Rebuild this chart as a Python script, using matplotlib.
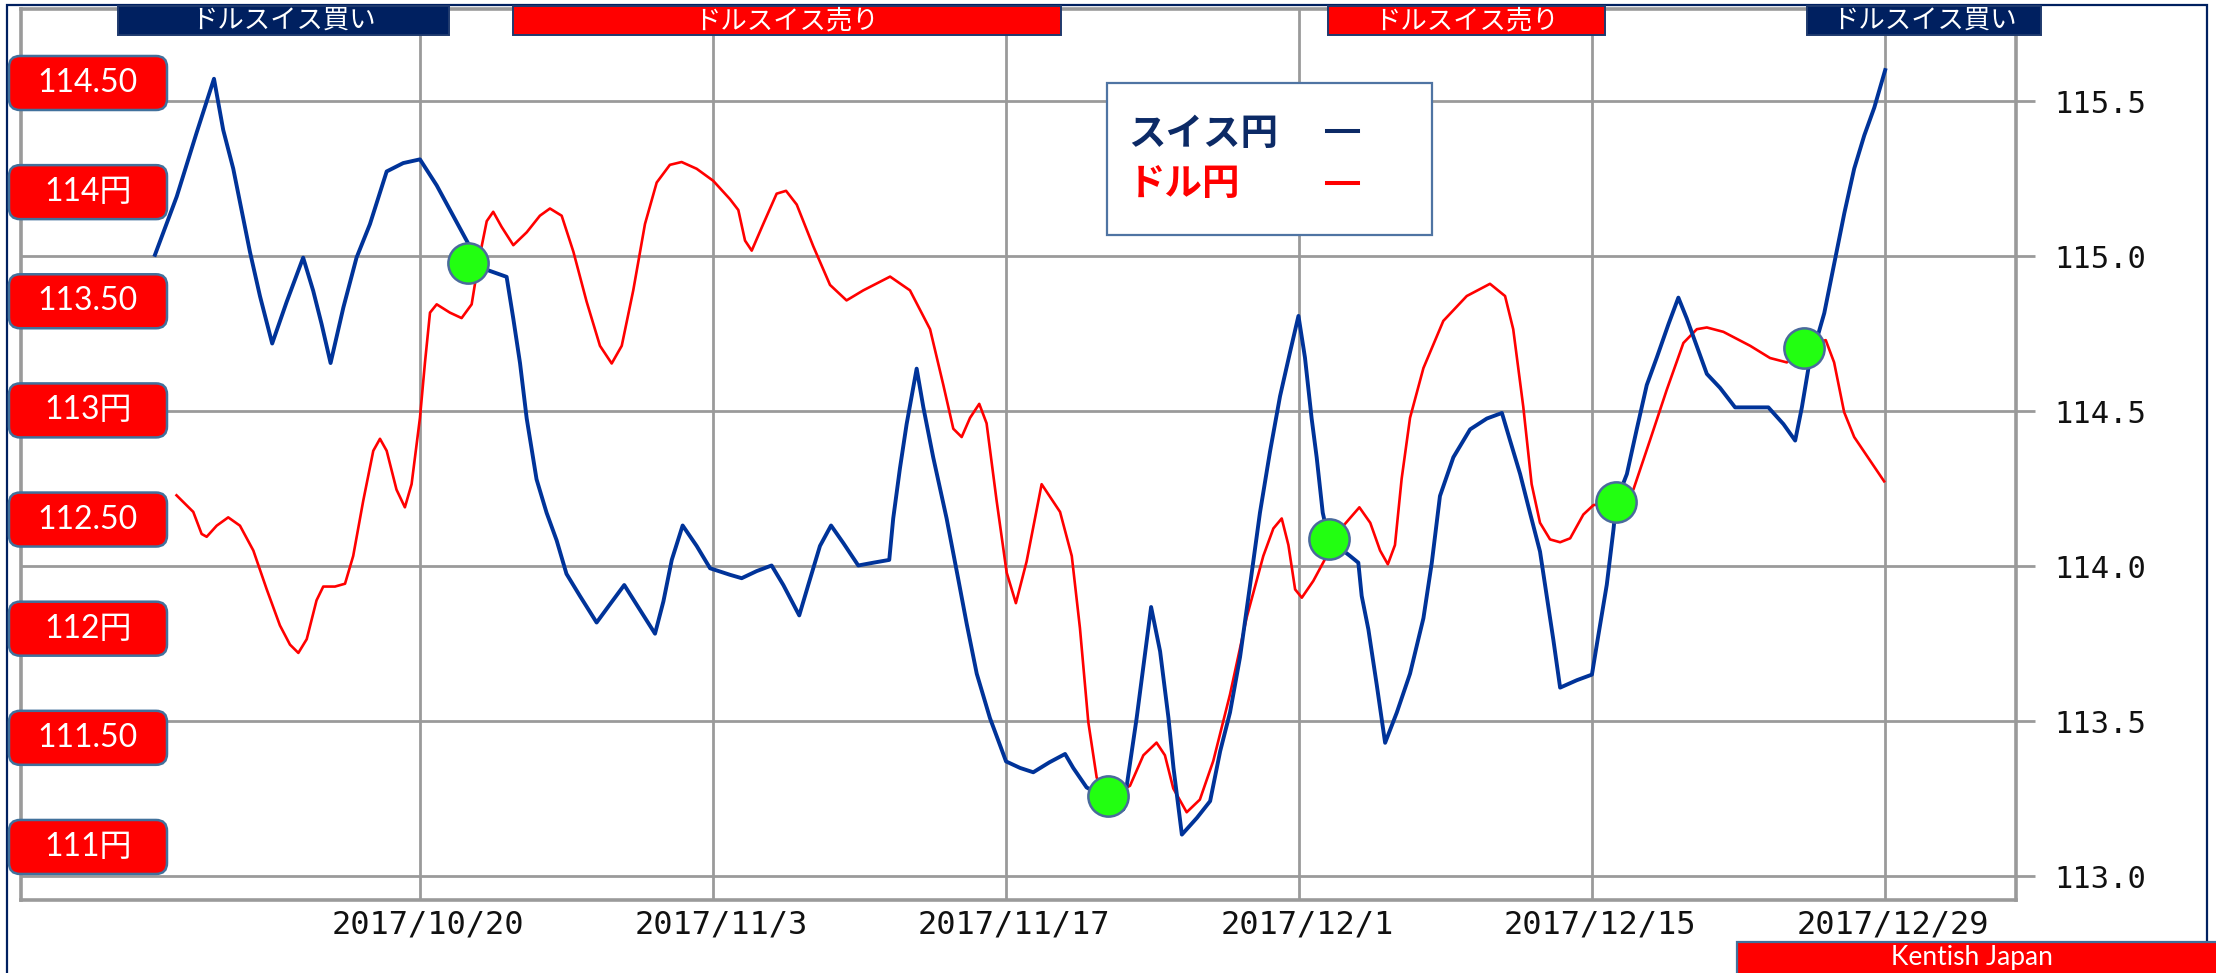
import matplotlib
matplotlib.use('Agg')
import matplotlib.pyplot as plt
from matplotlib.patches import FancyBboxPatch, Rectangle
from matplotlib.lines import Line2D
from matplotlib.transforms import IdentityTransform, ScaledTranslation

# ---------------- data ----------------
# x values are days counted from 2017/10/20
tick_days = [0, 14, 28, 42, 56, 70]
tick_labels = ["2017/10/20", "2017/11/3", "2017/11/17", "2017/12/1", "2017/12/15", "2017/12/29"]
chf_ticks = [113.0, 113.5, 114.0, 114.5, 115.0, 115.5]
chf_tick_labels = ["113.0", "113.5", "114.0", "114.5", "115.0", "115.5"]
usd_box_values = [114.5, 114.0, 113.5, 113.0, 112.5, 112.0, 111.5, 111.0]
usd_box_labels = ["114.50", "114円", "113.50", "113円", "112.50", "112円", "111.50", "111円"]

# スイス円 (CHF/JPY, right scale)
chf_days = [-12.66, -11.62, -10.67, -9.84, -9.40, -8.92, -8.12, -7.64, -7.06, -6.37,
            -5.58, -5.10, -4.70, -4.27, -3.66, -3.03, -2.39, -1.59, -0.80, 0.00,
            0.80, 1.59, 2.31, 3.18, 4.14, 4.46, 4.78, 5.10, 5.57, 6.05,
            6.53, 7.00, 7.64, 8.44, 9.08, 9.76, 10.51, 11.23, 11.63, 12.03,
            12.55, 13.22, 13.86, 14.81, 15.37, 16.09, 16.80, 17.36, 18.12, 18.55,
            19.11, 19.64, 20.23, 20.94, 21.66, 22.42, 22.61, 22.93, 23.25, 23.73,
            24.05, 24.52, 25.16, 25.72, 26.12, 26.60, 27.23, 28.00, 28.67, 29.30,
            30.07, 30.82, 31.21, 31.85, 32.85, 33.60, 34.24, 34.93, 35.36, 35.76,
            36.00, 36.40, 37.12, 37.75, 38.23, 38.70, 39.18, 39.66, 40.13, 40.61,
            41.09, 41.57, 41.97, 42.28, 42.60, 42.84, 43.13, 43.42, 44.43, 44.83,
            44.99, 45.31, 45.71, 46.11, 46.67, 47.30, 47.94, 48.34, 48.73, 49.37,
            50.17, 50.97, 51.69, 52.08, 52.56, 53.03, 53.51, 53.83, 54.15, 54.47,
            55.27, 55.99, 56.30, 56.70, 57.02, 57.15, 57.66, 58.13, 58.61, 59.09,
            59.65, 60.12, 60.52, 61.00, 61.48, 62.11, 62.83, 63.55, 64.42, 65.14,
            65.70, 66.02, 66.33, 67.09, 67.57, 68.05, 68.52, 69.00, 69.48, 70.00]
chf_values = [115.004, 115.192, 115.398, 115.572, 115.407, 115.282, 115.013, 114.870, 114.718, 114.852,
              114.995, 114.888, 114.781, 114.655, 114.834, 114.995, 115.103, 115.273, 115.300, 115.312,
              115.228, 115.130, 115.040, 114.956, 114.933, 114.798, 114.655, 114.476, 114.280, 114.172,
              114.083, 113.975, 113.904, 113.818, 113.877, 113.939, 113.859, 113.782, 113.886, 114.020,
              114.131, 114.065, 113.993, 113.972, 113.961, 113.984, 114.002, 113.939, 113.841, 113.939,
              114.065, 114.131, 114.074, 114.002, 114.011, 114.020, 114.154, 114.315, 114.458, 114.637,
              114.512, 114.351, 114.154, 113.957, 113.814, 113.653, 113.510, 113.370, 113.349, 113.335,
              113.367, 113.394, 113.349, 113.286, 113.250, 113.215, 113.510, 113.868, 113.725, 113.510,
              113.349, 113.134, 113.188, 113.242, 113.403, 113.528, 113.707, 113.940, 114.172, 114.369,
              114.548, 114.691, 114.807, 114.673, 114.476, 114.351, 114.172, 114.086, 114.033, 114.011,
              113.904, 113.796, 113.617, 113.430, 113.528, 113.653, 113.832, 114.011, 114.226, 114.351,
              114.441, 114.476, 114.494, 114.405, 114.297, 114.172, 114.047, 113.904, 113.761, 113.608,
              113.632, 113.650, 113.778, 113.940, 114.118, 114.208, 114.297, 114.441, 114.584, 114.673,
              114.781, 114.866, 114.799, 114.709, 114.620, 114.575, 114.512, 114.512, 114.512, 114.458,
              114.405, 114.512, 114.637, 114.816, 114.977, 115.139, 115.282, 115.389, 115.479, 115.600]

# ドル円 (USD/JPY, left scale)
usd_days = [-11.63, -10.83, -10.43, -10.19, -9.71, -9.16, -8.60, -7.96, -7.32, -6.69,
            -6.21, -5.81, -5.41, -4.94, -4.62, -4.06, -3.58, -3.19, -2.71, -2.23,
            -1.91, -1.59, -1.12, -0.72, -0.40, 0.00, 0.24, 0.48, 0.80, 1.43,
            1.99, 2.47, 2.79, 3.19, 3.50, 3.90, 4.46, 5.10, 5.73, 6.21,
            6.77, 7.33, 7.96, 8.60, 9.16, 9.64, 10.19, 10.75, 11.31, 11.94,
            12.50, 13.22, 14.01, 14.81, 15.21, 15.53, 15.85, 16.40, 17.04, 17.49,
            18.00, 18.79, 19.59, 20.38, 21.18, 22.46, 23.41, 24.37, 25.00, 25.48,
            25.88, 26.28, 26.72, 27.07, 27.55, 28.03, 28.47, 28.98, 29.70, 30.58,
            31.14, 31.53, 31.93, 32.33, 32.86, 33.92, 34.56, 35.19, 35.59, 35.99,
            36.63, 37.26, 37.90, 38.70, 39.50, 40.29, 40.77, 41.17, 41.49, 41.81,
            42.13, 42.68, 43.32, 44.12, 44.88, 45.40, 45.87, 46.24, 46.58, 46.90,
            47.30, 47.94, 48.89, 50.01, 51.12, 51.84, 52.23, 52.71, 53.11, 53.51,
            53.99, 54.47, 54.95, 55.58, 56.06, 57.14, 57.97, 58.77, 59.56, 60.36,
            61.00, 61.48, 62.27, 63.55, 64.50, 65.30, 66.13, 67.16, 67.56, 68.04,
            68.52, 69.32, 69.95]
usd_values = [112.611, 112.535, 112.434, 112.421, 112.472, 112.510, 112.472, 112.358, 112.180, 112.015,
              111.927, 111.889, 111.952, 112.130, 112.193, 112.193, 112.206, 112.333, 112.586, 112.815,
              112.870, 112.815, 112.637, 112.556, 112.662, 112.966, 113.220, 113.448, 113.486, 113.448,
              113.423, 113.486, 113.676, 113.867, 113.910, 113.841, 113.757, 113.816, 113.892, 113.925,
              113.892, 113.727, 113.499, 113.296, 113.215, 113.296, 113.550, 113.854, 114.044, 114.125,
              114.138, 114.107, 114.052, 113.968, 113.918, 113.778, 113.732, 113.854, 113.993, 114.006,
              113.943, 113.752, 113.575, 113.504, 113.550, 113.613, 113.550, 113.372, 113.118, 112.916,
              112.878, 112.966, 113.030, 112.941, 112.586, 112.257, 112.117, 112.307, 112.662, 112.535,
              112.333, 112.003, 111.572, 111.318, 111.234, 111.280, 111.420, 111.478, 111.420, 111.268,
              111.159, 111.217, 111.394, 111.699, 112.053, 112.333, 112.459, 112.505, 112.383, 112.180,
              112.142, 112.219, 112.333, 112.472, 112.556, 112.485, 112.358, 112.295, 112.383, 112.687,
              112.966, 113.194, 113.410, 113.524, 113.580, 113.524, 113.372, 113.017, 112.662, 112.485,
              112.409, 112.396, 112.414, 112.523, 112.566, 112.580, 112.637, 112.865, 113.093, 113.309,
              113.372, 113.380, 113.360, 113.296, 113.240, 113.220, 113.295, 113.322, 113.220, 112.992,
              112.878, 112.764, 112.675]

# green signal points (on the CHF/JPY line)
signal_days = [2.31, 32.86, 43.42, 57.14, 66.13]
signal_chf = [114.977, 113.259, 114.086, 114.208, 114.705]

banner_labels = ["ドルスイス買い", "ドルスイス売り", "ドルスイス売り", "ドルスイス買い"]
banner_is_buy = [True, False, False, True]
legend_labels = ["スイス円", "ドル円"]

# ---------------- figure ----------------
W, H = 2216, 973
fig = plt.figure(figsize=(W / 100, H / 100), dpi=100)
fig.patch.set_facecolor('white')
PX = IdentityTransform()

L, R, T, B = 21, 2016, 9, 900
rect = [L / W, 1 - B / H, (R - L) / W, (B - T) / H]
GRID = '#9a9a9a'
NAVY = '#002060'
BLUE = '#003399'
EDGE = '#41719c'

ax = fig.add_axes(rect)
axu = ax.twinx()
axb = fig.add_axes(rect, sharex=ax, sharey=ax)
axb.axis('off')
axb.patch.set_visible(False)

ax.set_xlim(-19.06, 76.25)
ax.set_ylim(112.923, 115.797)
axu.set_ylim(110.757, 114.839)

ax.grid(True, color=GRID, lw=2.0)
ax.set_axisbelow(True)
for s in ax.spines.values():
    s.set_color(GRID)
    s.set_linewidth(2.6)
for s in axu.spines.values():
    s.set_visible(False)

ax.yaxis.tick_right()
ax.set_yticks(chf_ticks, chf_tick_labels)
ax.tick_params(axis='y', direction='out', length=13.7, width=2.0, color=GRID,
               pad=14, labelsize=22, labelcolor='#111111', left=False, labelleft=False)
for lbl in ax.get_yticklabels():
    lbl.set_family('DejaVu Sans Mono')

ax.set_xticks(tick_days, tick_labels)
ax.tick_params(axis='x', length=0, pad=7, labelsize=23, labelcolor='#111111')
for lbl in ax.get_xticklabels():
    lbl.set_family('DejaVu Sans Mono')
    lbl.set_transform(lbl.get_transform() + ScaledTranslation(8 / 100, 0, fig.dpi_scale_trans))

axu.set_yticks([])
axu.tick_params(left=False, right=False, labelleft=False, labelright=False)

# lines
axu.plot(usd_days, usd_values, color='#ff0000', lw=1.9, solid_joinstyle='round')
axb.plot(chf_days, chf_values, color=BLUE, lw=2.8)
axb.plot(signal_days, signal_chf, 'o', ls='none', ms=29, mfc='#22ff11', mec='#4a6a9c', mew=1.8)

# outer border
fig.add_artist(Rectangle((7, -20), 2200, H - 5 + 20, transform=PX, fill=False,
                         ec=NAVY, lw=1.6, zorder=0.5))

# red price boxes on the left (USD/JPY levels)
box_w, box_h = 158, 54
for v, lab in zip(usd_box_values, usd_box_labels):
    yc = axu.transData.transform((0, v))[1]
    fig.add_artist(FancyBboxPatch((9, yc - box_h / 2), box_w, box_h,
                                  boxstyle='round,pad=0,rounding_size=11', transform=PX,
                                  fc='#ff0000', ec=EDGE, lw=1.8, zorder=3))
    fig.text(9 + box_w / 2, yc, lab, transform=PX, ha='center', va='center',
             color='white', fontsize=23, family=['Lato', 'Noto Sans CJK JP'], zorder=4)

# banners on top
banner_px = [(118, 449), (513, 1061), (1328, 1605), (1807, 2041)]
for (x0, x1), lab, buy in zip(banner_px, banner_labels, banner_is_buy):
    fc = NAVY if buy else '#ff0000'
    fig.add_artist(Rectangle((x0, H - 35), x1 - x0, 29, transform=PX, fc=fc,
                             ec='#1f3a6e', lw=1.4, zorder=3))
    fig.text((x0 + x1) / 2, H - 20.5, lab, transform=PX, ha='center', va='center',
             color='white', fontsize=19, family=['Noto Sans CJK JP', 'DejaVu Sans'], zorder=4)

# legend box
fig.add_artist(Rectangle((1107, H - 235), 325, 152, transform=PX, fc='white',
                         ec='#4f74a3', lw=1.6, zorder=3))
fig.text(1128, H - 133, legend_labels[0], transform=PX, ha='left', va='center',
         color='#0c2a66', fontsize=27, fontweight='bold',
         family=['Noto Sans CJK JP', 'DejaVu Sans'], zorder=4)
fig.text(1128, H - 184, legend_labels[1], transform=PX, ha='left', va='center',
         color='#ff0000', fontsize=27, fontweight='bold',
         family=['Noto Sans CJK JP', 'DejaVu Sans'], zorder=4)
fig.add_artist(Line2D([1327, 1358], [H - 131, H - 131], transform=PX, color='#0c2a66', lw=2.9, zorder=4))
fig.add_artist(Line2D([1327, 1358], [H - 183, H - 183], transform=PX, color='#ff0000', lw=2.9, zorder=4))

# Kentish Japan badge (bottom right)
fig.add_artist(Rectangle((1737, -20), 520, H - 942 + 20, transform=PX, fc='#ff0000',
                         ec=EDGE, lw=1.6, zorder=3))
fig.text(1972, (H - 943) / 2, "Kentish Japan", transform=PX, ha='center', va='center',
         color='white', fontsize=19, family=['Lato', 'DejaVu Sans'], zorder=4)

fig.savefig('out.png', dpi=100)
